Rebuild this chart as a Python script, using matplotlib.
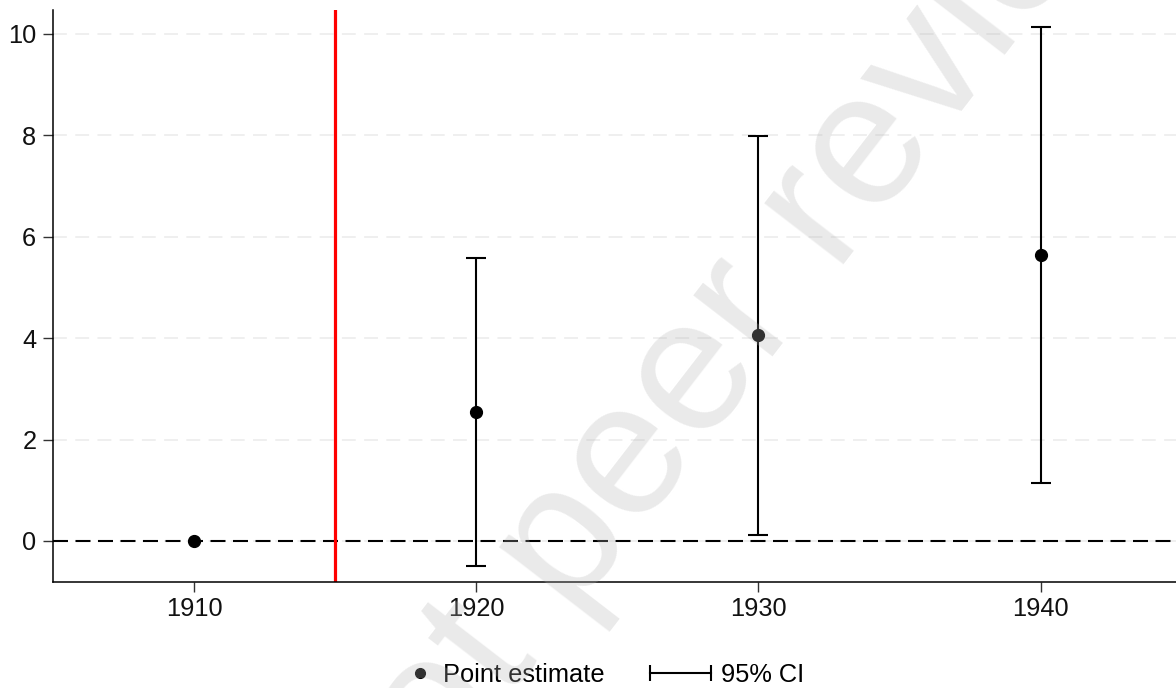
import numpy as np
import matplotlib
matplotlib.use("Agg")
import matplotlib.pyplot as plt
from matplotlib.lines import Line2D
from matplotlib.legend_handler import HandlerLine2D
from matplotlib.font_manager import FontProperties

# ---- data ----
years = [1910, 1920, 1930, 1940]
estimates = [0.0, 2.54, 4.06, 5.64]
ci_low = [np.nan, -0.49, 0.12, 1.14]
ci_high = [np.nan, 5.58, 7.99, 10.14]
event_year = 1915
xticks = [1910, 1920, 1930, 1940]
yticks = [0, 2, 4, 6, 8, 10]
legend_labels = ["Point estimate", "95% CI"]
watermark = "Preprint not peer reviewed"

plt.rcParams['font.family'] = ['Liberation Sans', 'DejaVu Sans']
plt.rcParams['lines.scale_dashes'] = False

W, H, DPI = 1176, 688, 100
fig = plt.figure(figsize=(W / DPI, H / DPI), dpi=DPI)
ax = fig.add_axes([53 / W, 1 - 582 / H, 1 - 53 / W, (582 - 10) / H])

x = np.array(years, dtype=float)
est = np.array(estimates)
lo = np.array(ci_low)
hi = np.array(ci_high)
has_ci = ~np.isnan(lo)

ax.yaxis.grid(True, color='#ebebeb', linestyle=(0, (10, 6)), linewidth=1.1, zorder=0)
ax.set_axisbelow(True)

# zero line
ax.axhline(0, color='black', linestyle=(0, (10.8, 5.4)), linewidth=1.5, zorder=2)
# event line
ax.axvline(event_year, color='#ff0000', linewidth=2.3, zorder=2)

# confidence intervals
ax.errorbar(x[has_ci], est[has_ci],
            yerr=[est[has_ci] - lo[has_ci], hi[has_ci] - est[has_ci]],
            fmt='none', ecolor='black', elinewidth=1.5, capsize=7.5,
            capthick=1.5, zorder=3)
# point estimates
ax.plot(x, est, 'o', color='black', markersize=8.5, zorder=4)

ax.set_xlim(1905.0, 1944.8)
ax.set_ylim(-0.81, 10.47)
ax.set_xticks(xticks)
ax.set_yticks(yticks)
ax.tick_params(axis='both', labelsize=18.3, length=7, width=1, color='#333333',
               labelcolor='#111111', direction='out')
ax.tick_params(axis='y', pad=5)
ax.tick_params(axis='x', pad=4)
for s in ['top', 'right']:
    ax.spines[s].set_visible(False)
for s in ['left', 'bottom']:
    ax.spines[s].set_linewidth(1.1)
    ax.spines[s].set_color('black')


class HandlerRightMarker(HandlerLine2D):
    def get_xdata(self, legend, xdescent, ydescent, width, height, fontsize):
        c = -xdescent + width - 0.78 * fontsize
        xdata = np.array([c, c])
        return xdata, np.array([c])


h_pt = Line2D([], [], linestyle='none', marker='o', color='black', markersize=7)
h_ci = Line2D([], [], color='black', linewidth=1.5, marker='|', markersize=12,
              markeredgewidth=1.5)
leg = fig.legend([h_pt, h_ci], legend_labels, loc='center',
                 bbox_to_anchor=(584 / W, 1 - 675 / H), ncol=2, frameon=False,
                 fontsize=18.3, handlelength=3.0, handletextpad=0.1,
                 columnspacing=1.5, borderpad=0.2,
                 handler_map={h_pt: HandlerRightMarker(numpoints=1),
                              h_ci: HandlerLine2D(numpoints=2)})

# watermark
angle = 52.4
fsize = 137
fp = FontProperties(family='Liberation Sans', size=fsize)
renderer = fig.canvas.get_renderer()
prefix = watermark[:watermark.index('not') + 2]
w_pre, _, _ = renderer.get_text_width_height_descent(prefix, fp, ismath=False)
tx, ty = 507, H - 702
a = np.deg2rad(angle)
px = tx - w_pre * np.cos(a)
py = ty - w_pre * np.sin(a)
fig.text(px / W, py / H, watermark, fontproperties=fp, color='#b4b4b4',
         alpha=0.28, rotation=angle, rotation_mode='anchor', ha='left',
         va='baseline', zorder=10)

fig.savefig('out.png', dpi=DPI)
